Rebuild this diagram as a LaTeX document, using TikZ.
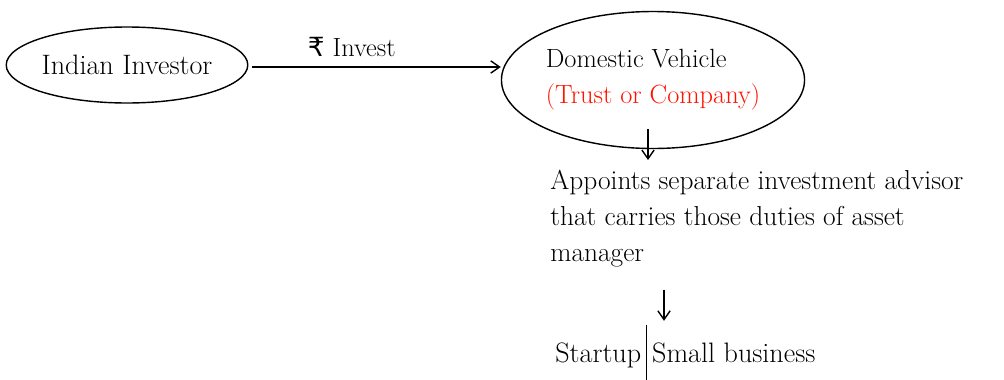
\documentclass[tikz,border=0pt]{standalone}
\usepackage{fontspec}
\usepackage{tikz}
\usetikzlibrary{arrows.meta,positioning,shapes.geometric}
\newfontfamily\rupeefont{DejaVu Sans}

\begin{document}
\begin{tikzpicture}[
  x=0.02cm, y=-0.02cm,
  font=\fontsize{15}{20.5}\selectfont,
  party/.style={ellipse, draw=black, thick, align=left, inner sep=0pt},
  flow/.style={->, thick, >={Straight Barb[length=5pt,width=7pt]}},
  note/.style={align=left, inner sep=0pt}
]
\useasboundingbox (0,0) rectangle (1004,379);

\node[party, minimum width=4.76cm, minimum height=1.52cm, font=\fontsize{16}{20}\selectfont] (investor) at (127,65) {Indian Investor};
\node[party, minimum width=5.26cm, minimum height=2.74cm] (vehicle) at (653,80)
  {Domestic Vehicle\\{\color{red!85!orange}(Trust or Company)}};
\node[note, anchor=north west, font=\fontsize{15.6}{20.5}\selectfont] (advisor) at (550,170)
  {Appoints separate investment advisor\\that carries those duties of asset\\manager};
\node[note, anchor=west, font=\fontsize{16}{20}\selectfont] (startup) at (555,353)
  {Startup\,\rule[-1.5ex]{0.9pt}{4.6ex}\,Small business};

\draw[flow] (investor.east) ++(4,2) coordinate (out) -- (vehicle.west |- out)
  node[pos=0.4, above=2pt] {{\rupeefont ₹} Invest};
\draw[flow] ([xshift=-0.1cm, yshift=0.4cm]vehicle.south) -- ([xshift=-0.1cm, yshift=0.2cm]vehicle.south |- advisor.north);
\draw[flow] ([yshift=-0.44cm]advisor.south -| startup.west) ++(109,0) coordinate (down)
  -- ([yshift=0.08cm]down |- startup.north);
\end{tikzpicture}
\end{document}
